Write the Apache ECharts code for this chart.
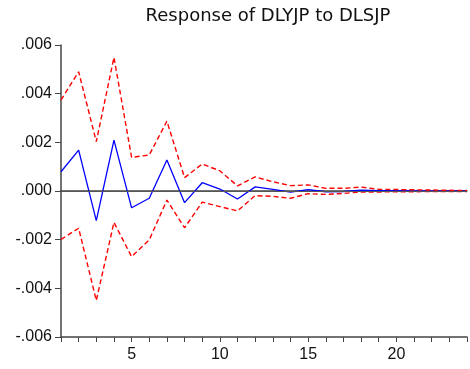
<!DOCTYPE html>
<html>
<head>
<meta charset="utf-8">
<script src="https://cdn.jsdelivr.net/npm/echarts@6/dist/echarts.min.js"></script>
<style>
  html, body { margin: 0; padding: 0; background: #ffffff; }
  #chart { width: 470px; height: 369px; }
</style>
</head>
<body>
<div id="chart"></div>
<script>
// Impulse response horizon (periods)
const periods = ['1','2','3','4','5','6','7','8','9','10','11','12','13','14','15','16','17','18','19','20','21','22','23','24'];

// Response of DLYJP to a shock in DLSJP
const response = [0.00079, 0.00168, -0.00122, 0.00209, -0.00069, -0.00030, 0.00127, -0.00048,
                  0.00034, 0.00008, -0.00033, 0.00017, 0.00007, -0.00005, 0.00006, -0.00003,
                  -0.00002, 0.00003, 0.00001, 0.00001, 0.00000, 0.00000, 0.00000, 0.00000];

// +/- 2 S.E. bands
const upperBand = [0.00374, 0.00490, 0.00203, 0.00549, 0.00138, 0.00148, 0.00287, 0.00055,
                   0.00111, 0.00083, 0.00021, 0.00058, 0.00038, 0.00022, 0.00025, 0.00011,
                   0.00011, 0.00016, 0.00007, 0.00006, 0.00005, 0.00004, 0.00003, 0.00002];
const lowerBand = [-0.00199, -0.00153, -0.00450, -0.00129, -0.00270, -0.00201, -0.00037, -0.00151,
                   -0.00046, -0.00064, -0.00082, -0.00019, -0.00022, -0.00030, -0.00011, -0.00014,
                   -0.00010, -0.00004, -0.00004, -0.00003, -0.00003, -0.00002, -0.00002, -0.00002];

const xLabelsShown = ['5', '10', '15', '20'];
const chartTitle = 'Response of DLYJP to DLSJP';

const axisColor = '#444444';
const tickFont = 'Liberation Sans, Arial, sans-serif';

function fmtY(v) {
  if (Math.abs(v) < 1e-12) return '.000';
  const s = Math.abs(v).toFixed(3).replace(/^0/, '');
  return (v < 0 ? '-' : '') + s;
}

const chart = echarts.init(document.getElementById('chart'), null, { renderer: 'canvas' });

chart.setOption({
  animation: false,
  backgroundColor: '#ffffff',
  graphic: [{
    type: 'text',
    x: 268,
    y: 16,
    style: {
      text: chartTitle,
      font: '18px "DejaVu Sans", Verdana, sans-serif',
      fill: '#111111',
      textAlign: 'center',
      textVerticalAlign: 'middle'
    }
  }],
  grid: { left: 61, width: 410, top: 45, height: 292, containLabel: false },
  xAxis: [{
    type: 'category',
    data: periods,
    boundaryGap: false,
    axisLine: { onZero: false, lineStyle: { color: axisColor, width: 1.5 } },
    axisTick: { show: true, interval: 0, length: 5, lineStyle: { color: axisColor, width: 1 } },
    axisLabel: {
      interval: 0,
      formatter: function (v) { return xLabelsShown.indexOf(v) >= 0 ? v : ''; },
      color: '#111111',
      fontFamily: tickFont,
      fontSize: 16,
      margin: 10
    },
    splitLine: { show: false }
  }, {
    type: 'category',
    position: 'top',
    data: periods,
    boundaryGap: false,
    axisLine: { show: true, lineStyle: { color: axisColor, width: 1.5 } },
    axisTick: { show: false },
    axisLabel: { show: false },
    splitLine: { show: false }
  }],
  yAxis: {
    type: 'value',
    min: -0.006,
    max: 0.006,
    interval: 0.002,
    axisLine: { show: true, lineStyle: { color: axisColor, width: 1.5 } },
    axisTick: { show: true, length: 6, lineStyle: { color: axisColor, width: 1 } },
    axisLabel: {
      formatter: fmtY,
      color: '#111111',
      fontFamily: tickFont,
      fontSize: 16,
      margin: 9
    },
    splitLine: { show: false }
  },
  series: [
    {
      name: 'zero',
      type: 'line',
      data: [],
      z: 1,
      silent: true,
      markLine: {
        symbol: 'none',
        silent: true,
        label: { show: false },
        lineStyle: { color: '#555555', type: 'solid', width: 1.2 },
        data: [{ yAxis: 0 }]
      }
    },
    {
      name: 'response',
      type: 'line',
      data: response,
      z: 3,
      showSymbol: false,
      lineStyle: { color: '#0000ff', width: 1.3 }
    },
    {
      name: 'upper',
      type: 'line',
      data: upperBand,
      z: 4,
      showSymbol: false,
      lineStyle: { color: '#ff0000', width: 1.4, type: [5, 3] }
    },
    {
      name: 'lower',
      type: 'line',
      data: lowerBand,
      z: 4,
      showSymbol: false,
      lineStyle: { color: '#ff0000', width: 1.4, type: [5, 3] }
    }
  ]
});
</script>
</body>
</html>
